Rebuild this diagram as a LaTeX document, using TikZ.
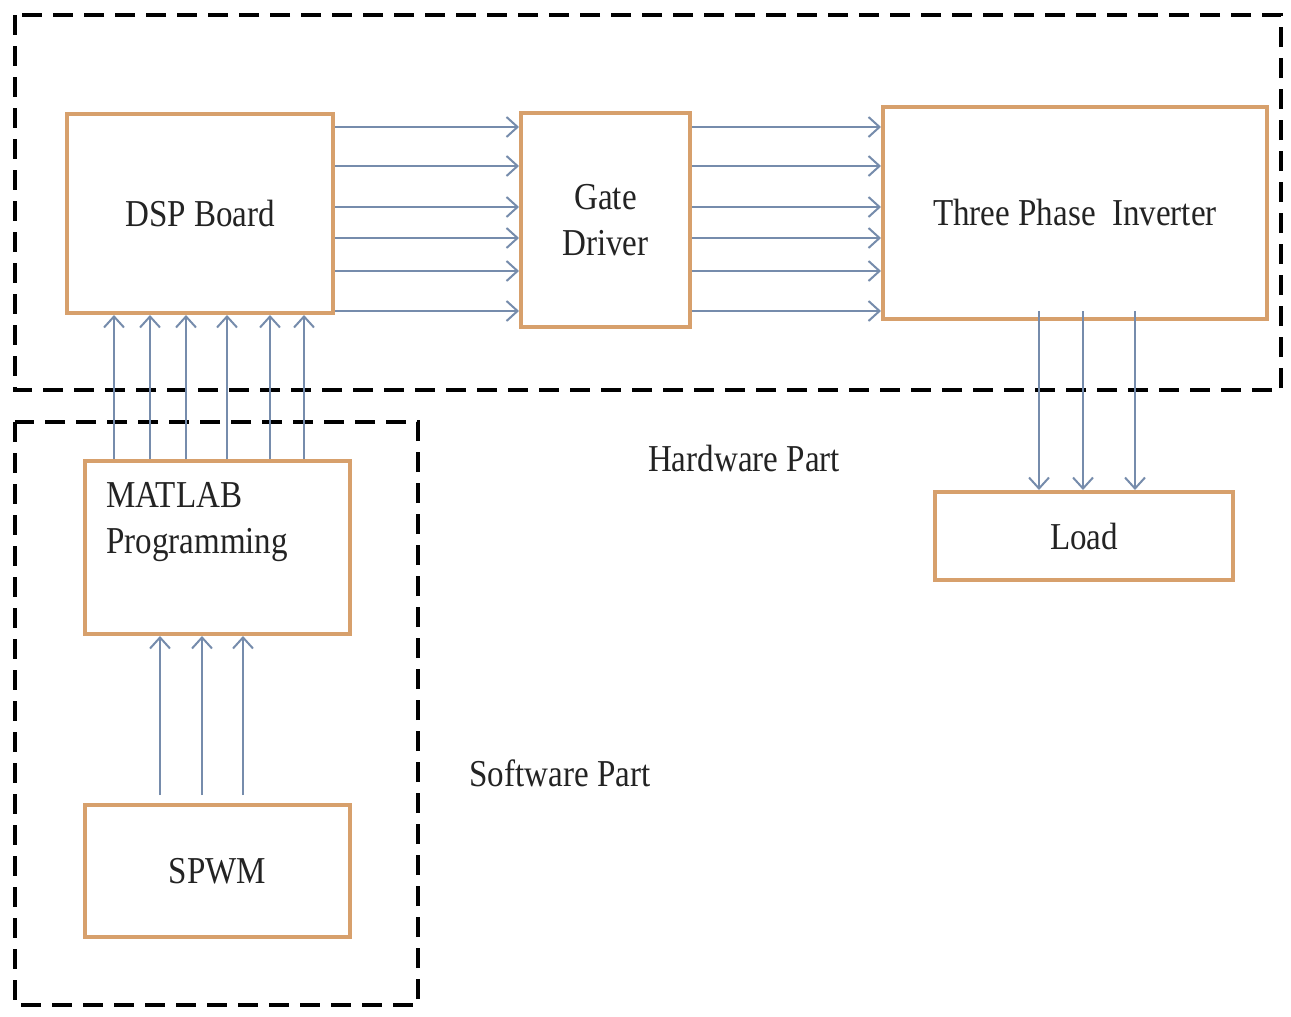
\documentclass[tikz,border=0pt]{standalone}
\usepackage{fontspec}
\setmainfont{Liberation Serif}[FakeStretch=0.87]
\usetikzlibrary{arrows.meta}
\definecolor{boxedge}{RGB}{215,160,108}
\definecolor{arrcol}{RGB}{118,140,172}
\definecolor{txt}{RGB}{35,35,35}
\tikzset{
  blockbox/.style={draw=boxedge, line width=4pt, fill=white, inner sep=0pt,
    text=txt, align=center, font=\fontsize{38}{46}\selectfont},
  dashframe/.style={draw=black, line width=4pt, dash pattern=on 20pt off 11pt},
  sig/.style={draw=arrcol, line width=2pt, -{Straight Barb[length=11pt,width=20pt,line width=2pt]}},
  lbl/.style={text=txt, font=\fontsize{38}{46}\selectfont, inner sep=0pt}
}
\begin{document}
\begin{tikzpicture}[x=1pt,y=-1pt]
\useasboundingbox[fill=white] (0,0) rectangle (1291,1017);
% frames
\draw[dashframe] (15,15) rectangle (1281,390);
\draw[dashframe] (15,422) rectangle (418,1005);
% blocks
\node[blockbox, minimum width=266pt, minimum height=199pt] (dsp) at (200,213.5) {DSP Board};
\node[blockbox, minimum width=169pt, minimum height=214pt] (gate) at (605.5,220) {Gate\\Driver};
\node[blockbox, minimum width=384pt, minimum height=212pt] (inv) at (1075,213) {Three Phase\ \ Inverter};
\node[blockbox, minimum width=298pt, minimum height=88pt] (load) at (1084,536) {Load};
\node[blockbox, minimum width=265pt, minimum height=173pt] (matlab) at (217.5,547.5) {};
\node[lbl, anchor=west, align=left] (matlabtxt) at (106,522) {MATLAB\\Programming};
\node[blockbox, minimum width=265pt, minimum height=132pt] (spwm) at (217.5,871) {SPWM};
% labels
\node[lbl] (hwlbl) at (744,458) {Hardware Part};
\node[lbl] (swlbl) at (560,773) {Software Part};
% DSP -> Gate, Gate -> Inverter
\foreach \yy in {127,166,207,238,271,311} {
  \draw[sig] (dsp.east |- 0,\yy) -- (gate.west |- 0,\yy);
  \draw[sig] (gate.east |- 0,\yy) -- (inv.west |- 0,\yy);
}
% MATLAB -> DSP
\foreach \xx in {114,150,186,227,270,304} {
  \draw[sig] (matlab.north -| \xx,0) -- (dsp.south -| \xx,0);
}
% SPWM -> MATLAB
\foreach \xx in {160,202,243} {
  \draw[sig] ([yshift=8pt]spwm.north -| \xx,0) -- (matlab.south -| \xx,0);
}
% Inverter -> Load
\foreach \xx in {1039,1083,1135} {
  \draw[sig] ([yshift=10pt]inv.south -| \xx,0) -- (load.north -| \xx,0);
}
\end{tikzpicture}
\end{document}
